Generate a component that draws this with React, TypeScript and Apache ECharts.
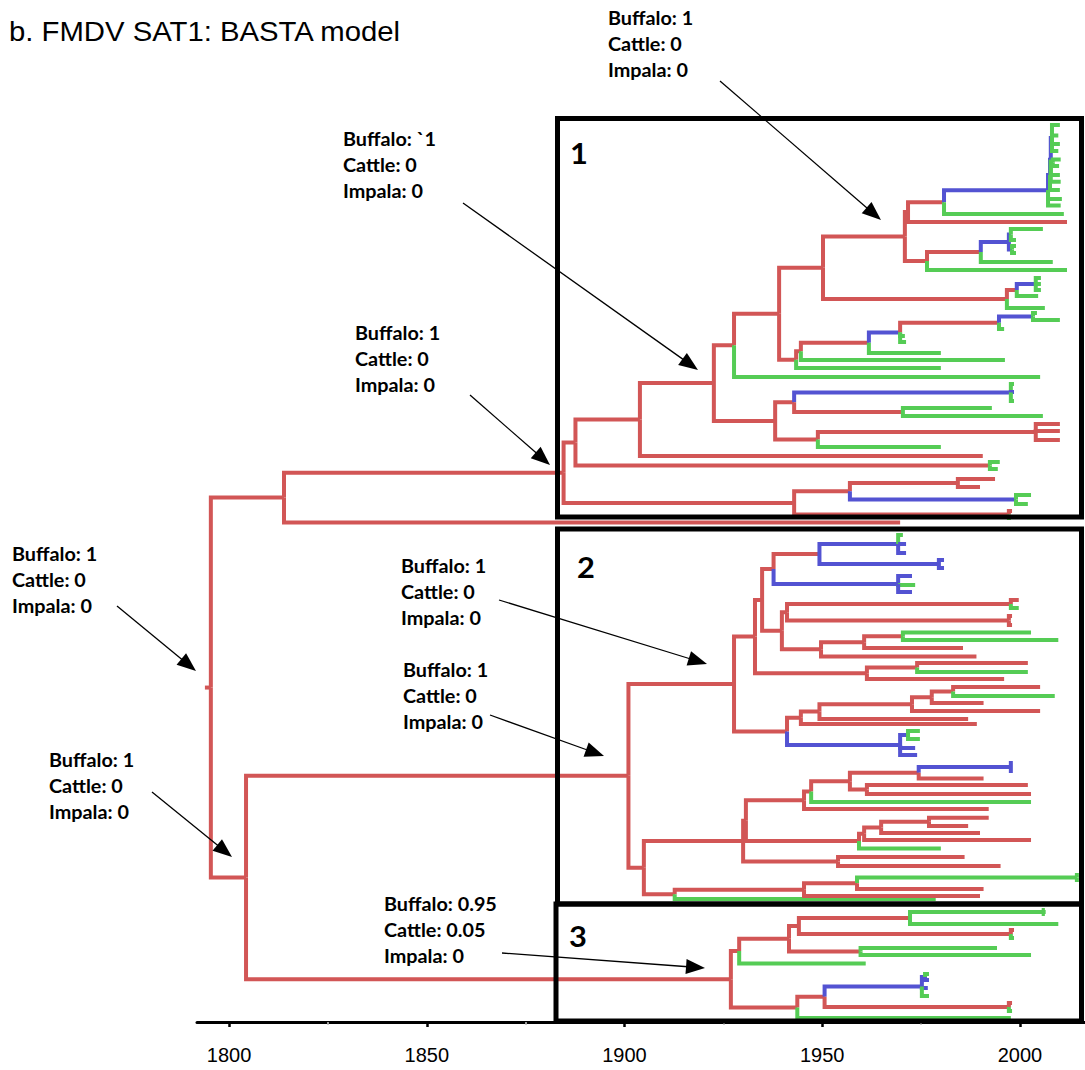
import React, { useEffect, useRef } from "react";
import * as echarts from "echarts";

type TreeNode = { t: number; c: string; y?: number; ch?: TreeNode[] };
const N = (t: number, c: string, ...ch: TreeNode[]): TreeNode => ({ t, c, ch });
const T = (t: number, c: string, y: number): TreeNode => ({ t, c, y });

// ---- axis ----
const YEAR_MIN = 1791.9;
const YEAR_MAX = 2016.45;
const LABEL_YEARS = [1800, 1850, 1900, 1950, 2000];
const MAJOR_TICKS = [1800, 1850, 1900, 1950, 2000];
const MINOR_TICKS = [1825, 1875, 1925, 1975];
const ROW_MIN = 0;
const ROW_MAX = 1022;
const ROOT_STEM_START = 1793.9;

// ---- state colours (r = buffalo, b = cattle, g = impala) ----
const STATE_KEYS = ["r", "b", "g"];
const STATE_COLORS = ["#D25656", "#5353D2", "#55CC55"];

// ---- tree: node ages (years), tip rows ----
const CLADE_1_COMB = N(2007.1, "b",
  N(2007.6, "b",
    N(2007.8, "b",
      N(2008.1, "b", T(2010.1, "g", 125), T(2009.7, "g", 135.6), T(2010.1, "g", 144), T(2009.7, "g", 151)),
      N(2008.3, "b", T(2010.3, "g", 159.5), T(2009.9, "g", 166)),
      T(2010.1, "g", 175), T(2010.3, "g", 181.7)),
    T(2010.1, "g", 190)),
  T(2010.6, "g", 199), T(2010.3, "g", 205.6));

const CLADE_1 = N(1884.6, "r",
  N(1887.6, "r",
    N(1903.9, "r",
      N(1922.6, "r",
        N(1927.7, "r",
          N(1939.1, "r",
            N(1950.2, "r",
              N(1970.9, "r",
                N(1971.7, "r",
                  N(1980.8, "r", CLADE_1_COMB, T(2011.1, "g", 214)),
                  T(2011.9, "r", 222)),
                N(1976.5, "r",
                  N(1990.1, "r",
                    N(1997.2, "b",
                      N(1997.7, "b", T(2005.8, "g", 229), T(1999.0, "g", 240)),
                      N(1998.0, "b", T(1999.0, "g", 246), T(1999.0, "g", 253))),
                    T(2008.3, "g", 262)),
                  T(2011.9, "g", 270))),
              N(1996.7, "r",
                N(1999.2, "r",
                  N(2004.0, "b", T(2005.3, "g", 278), T(2005.3, "g", 284), T(2005.3, "g", 290)),
                  T(2004.6, "g", 296)),
                T(2006.3, "g", 308))),
            N(1943.4, "r",
              N(1944.6, "r",
                N(1961.8, "r",
                  N(1969.7, "b",
                    N(1994.7, "r",
                      N(2003.3, "b", T(2004.3, "g", 313), T(2010.1, "g", 320)),
                      T(1996.0, "g", 329)),
                    T(1970.9, "g", 336), T(1971.2, "g", 342)),
                  T(1980.0, "g", 353)),
                T(1996.2, "g", 360)),
              T(1980.0, "g", 368))),
          T(2005.1, "g", 377)),
        N(1938.1, "r",
          N(1942.9, "r",
            N(1997.7, "b", T(1998.5, "g", 384), T(1998.5, "b", 392), T(1998.5, "g", 401)),
            N(1970.4, "r", T(1992.9, "g", 408), T(2005.8, "g", 416))),
          N(1948.9, "r",
            N(2004.0, "r", T(2010.1, "r", 424), T(2010.1, "r", 431), T(2010.1, "r", 440)),
            T(1980.0, "g", 447)))),
      T(1990.6, "r", 456)),
    N(1992.4, "r", T(1994.9, "g", 462), T(1994.4, "g", 469))),
  N(1942.9, "r",
    N(1957.0, "r",
      N(1984.3, "r", T(1993.7, "r", 479), T(1989.9, "r", 487)),
      N(1999.0, "b", T(2002.8, "g", 495), T(2002.0, "g", 504))),
    N(1997.2, "r", T(1998.0, "r", 511), T(1997.7, "g", 518))));

const CLADE_2 = N(1901.0, "r",
  N(1927.7, "r",
    N(1933.0, "r",
      N(1934.8, "r",
        N(1937.7, "r",
          N(1949.3, "r",
            N(1969.2, "b", T(1970.4, "g", 535), T(1971.2, "b", 544), T(1971.2, "b", 553)),
            N(1979.5, "b", T(1980.8, "b", 560), T(1980.8, "b", 568))),
          N(1969.2, "b", T(1972.7, "b", 576), T(1973.5, "g", 585), T(1972.7, "b", 592))),
        N(1939.8, "r",
          N(1941.1, "r",
            N(1997.7, "r", T(1999.7, "r", 600), T(1999.7, "g", 608)),
            N(1997.2, "r", T(1998.0, "r", 616), T(1998.0, "r", 625))),
          N(1949.7, "r",
            N(1960.6, "r",
              N(1970.4, "r", T(2002.8, "g", 632.6), T(2009.7, "g", 640)),
              T(1985.6, "r", 648)),
            T(1989.0, "r", 656.5)))),
      N(1961.3, "r",
        N(1974.0, "r", T(2002.0, "r", 663), T(2002.0, "g", 672)),
        T(1996.0, "r", 679))),
    N(1941.1, "r",
      N(1944.6, "r",
        N(1949.3, "r",
          N(1972.7, "r",
            N(1977.7, "r",
              N(1983.1, "r", T(2005.1, "r", 687), T(2008.8, "g", 696)),
              T(1990.8, "r", 703)),
            T(2005.1, "r", 711)),
          T(1986.9, "r", 719)),
        T(1989.1, "r", 724)),
      N(1969.7, "b",
        N(1971.7, "b", T(1974.7, "g", 731), T(1974.7, "g", 739)),
        T(1973.5, "b", 748), T(1974.0, "b", 755)))),
  N(1904.9, "r",
    N(1930.0, "r",
      N(1930.7, "r",
        N(1945.4, "r",
          N(1947.2, "r",
            N(1957.0, "r",
              N(1974.4, "r",
                N(1997.7, "b", T(1998.2, "b", 763), T(1998.2, "b", 771)),
                T(1990.8, "r", 778.5)),
              N(1961.3, "r", T(2002.0, "r", 785), T(2002.8, "r", 794))),
            T(2002.8, "g", 802)),
          T(1992.1, "r", 809)),
        N(1959.3, "r",
          N(1960.6, "r",
            N(1964.9, "r",
              N(1977.0, "r", T(1992.1, "r", 817.7), T(1986.9, "r", 826)),
              T(1989.9, "r", 833)),
            T(2002.8, "r", 840)),
          T(1980.0, "g", 848.5))),
      N(1954.0, "r", T(1986.0, "r", 857), T(1995.1, "r", 866))),
    N(1912.7, "r",
      N(1945.4, "r",
        N(1958.8, "r",
          N(2014.4, "g", T(2014.9, "g", 875), T(2014.9, "g", 880)),
          T(1990.8, "r", 889)),
        T(1989.9, "r", 896)),
      T(1978.7, "g", 899))));

const CLADE_3 = N(1926.9, "r",
  N(1929.0, "r",
    N(1941.6, "r",
      N(1944.1, "r",
        N(1972.2, "r",
          N(2006.0, "g", T(2006.3, "g", 910), T(2006.3, "g", 914)),
          T(2009.7, "g", 924)),
        N(1997.7, "r", T(1998.5, "r", 930), T(1998.5, "g", 938))),
      N(1959.7, "r", T(1994.2, "g", 948), T(2002.8, "g", 955))),
    T(1961.0, "g", 963.4)),
  N(1943.7, "r",
    N(1950.6, "r",
      N(1975.2, "b",
        N(1976.0, "b", T(1977.0, "g", 974), T(1977.0, "b", 980)),
        T(1976.7, "b", 988), T(1977.0, "g", 996)),
      N(1997.2, "r", T(1998.0, "r", 1003), T(1998.0, "g", 1011))),
    T(1997.7, "g", 1018)));

const TREE = N(1795.4, "r",
  N(1813.9, "r", CLADE_1, T(1969.7, "r", 522.5)),
  N(1804.3, "r", CLADE_2, CLADE_3));

// ---- text content ----
const TITLE = "b. FMDV SAT1: BASTA model";
const ANNOTATION_TEXTS = [
  ["Buffalo: 1", "Cattle: 0", "Impala: 0"],
  ["Buffalo: `1", "Cattle: 0", "Impala: 0"],
  ["Buffalo: 1", "Cattle: 0", "Impala: 0"],
  ["Buffalo: 1", "Cattle: 0", "Impala: 0"],
  ["Buffalo: 1", "Cattle: 0", "Impala: 0"],
  ["Buffalo: 1", "Cattle: 0", "Impala: 0"],
  ["Buffalo: 1", "Cattle: 0", "Impala: 0"],
  ["Buffalo: 0.95", "Cattle: 0.05", "Impala: 0"],
];
const BOX_LABELS = ["1", "2", "3"];

// ---- layout (pixels) ----
const ANNOTATION_POS = [
  [608, 44], [343, 165], [355, 359], [12, 580], [401, 592], [403, 696], [49, 786], [384, 930],
];
const ARROW_POS = [
  [720, 81, 881, 220],
  [463, 203, 698, 370],
  [470, 395, 550, 465],
  [117, 606, 196, 671],
  [499, 600, 707, 664],
  [490, 715, 604, 756],
  [152, 792, 232, 857],
  [502, 953, 705, 968],
];
const BOX_RECTS = [
  [557.5, 118.5, 1081.5, 517],
  [557.5, 529, 1081.5, 904],
  [556, 904, 1081.5, 1021],
];
const BOX_LABEL_POS = [[579, 153], [586, 567], [578, 936]];

function buildSegments(root: TreeNode): number[][] {
  const yOf = new Map<TreeNode, number>();
  const lay = (n: TreeNode): number => {
    let y: number;
    if (n.ch && n.ch.length) {
      const ys = n.ch.map(lay);
      y = (ys[0] + ys[ys.length - 1]) / 2;
    } else {
      y = n.y as number;
    }
    yOf.set(n, y);
    return y;
  };
  lay(root);
  const out: number[][] = [];
  const ry = yOf.get(root) as number;
  out.push([ROOT_STEM_START, ry, root.t, ry, 0]);
  const walk = (n: TreeNode) => {
    (n.ch || []).forEach((c) => {
      out.push([n.t, yOf.get(n) as number, c.t, yOf.get(c) as number, STATE_KEYS.indexOf(c.c)]);
    });
    (n.ch || []).forEach(walk);
  };
  walk(root);
  return out;
}

function arrowEls(x1: number, y1: number, x2: number, y2: number) {
  const dx = x2 - x1, dy = y2 - y1;
  const len = Math.hypot(dx, dy);
  const ux = dx / len, uy = dy / len;
  const L = 19, W = 7.5;
  const bx = x2 - ux * L, by = y2 - uy * L;
  return [
    { type: "line", z: 20, shape: { x1, y1, x2: bx + ux * 2, y2: by + uy * 2 }, style: { stroke: "#000", lineWidth: 1.3 } },
    { type: "polygon", z: 20, shape: { points: [[x2, y2], [bx - uy * W, by + ux * W], [bx + uy * W, by - ux * W]] }, style: { fill: "#000" } },
  ];
}

export default function App() {
  const ref = useRef<HTMLDivElement>(null);
  useEffect(() => {
    if (!ref.current) return;
    const chart = echarts.init(ref.current, undefined, { renderer: "svg" });
    const segs = buildSegments(TREE);

    const graphics: any[] = [];
    graphics.push({
      type: "text", x: 9, y: 31, scaleX: 1.085, z: 20,
      style: { text: TITLE, x: 0, y: 0, fontSize: 27, fontFamily: "Liberation Sans, Arial, sans-serif", fill: "#000", align: "left", verticalAlign: "middle" },
    });
    ANNOTATION_TEXTS.forEach((lines, i) => {
      const [x, y] = ANNOTATION_POS[i];
      graphics.push({
        type: "text", x, y, scaleX: 1.1, z: 20,
        style: { text: lines.join("\n"), x: 0, y: 0, fontSize: 18, fontWeight: "bold", fontFamily: "Lato, sans-serif", lineHeight: 26, fill: "#000", align: "left", verticalAlign: "middle" },
      });
    });
    ARROW_POS.forEach(([a, b, c, d]) => graphics.push(...arrowEls(a, b, c, d)));
    BOX_RECTS.forEach(([x1, y1, x2, y2]) => {
      graphics.push({
        type: "rect", z: 15, shape: { x: x1, y: y1, width: x2 - x1, height: y2 - y1 },
        style: { fill: "none", stroke: "#000", lineWidth: 5 },
      });
    });
    BOX_LABELS.forEach((s, i) => {
      const [x, y] = BOX_LABEL_POS[i];
      graphics.push({
        type: "text", x, y, scaleX: 1.1, z: 20,
        style: { text: s, x: 0, y: 0, fontSize: 28, fontWeight: "bold", fontFamily: "Lato, sans-serif", fill: "#000", align: "center", verticalAlign: "middle" },
      });
    });

    chart.setOption({
      animation: false,
      backgroundColor: "#fff",
      grid: { left: 197, right: 0, top: 0, bottom: 48, containLabel: false, outerBoundsMode: "none" },
      xAxis: [
        {
          type: "value", min: YEAR_MIN, max: YEAR_MAX, position: "bottom",
          axisLine: { show: true, onZero: false, lineStyle: { color: "#000", width: 3 } },
          axisTick: { show: true, customValues: MAJOR_TICKS, length: 5, lineStyle: { color: "#000", width: 2.5 } },
          axisLabel: {
            show: true, customValues: LABEL_YEARS, formatter: (v: number) => String(v),
            fontSize: 20, fontFamily: "Liberation Sans, Arial, sans-serif", color: "#000", margin: 23,
          },
          splitLine: { show: false },
        },
        {
          type: "value", min: YEAR_MIN, max: YEAR_MAX, position: "bottom",
          axisLine: { show: false, onZero: false },
          axisTick: { show: true, customValues: MINOR_TICKS, length: 2.5, lineStyle: { color: "#999", width: 2 } },
          axisLabel: { show: false },
          splitLine: { show: false },
        },
      ],
      yAxis: { type: "value", min: ROW_MIN, max: ROW_MAX, inverse: true, show: false },
      series: [
        {
          type: "custom",
          xAxisIndex: 0,
          yAxisIndex: 0,
          clip: false,
          silent: true,
          encode: { x: [0, 2], y: [1, 3] },
          data: segs,
          renderItem: (_p: any, api: any) => {
            const a = api.coord([api.value(0), api.value(1)]);
            const b = api.coord([api.value(0), api.value(3)]);
            const c = api.coord([api.value(2), api.value(3)]);
            return {
              type: "polyline",
              shape: { points: [a, b, c] },
              style: { stroke: STATE_COLORS[api.value(4)], lineWidth: 4, fill: null, lineJoin: "miter", lineCap: "butt" },
            };
          },
        },
      ],
      graphic: { elements: graphics },
    });
    return () => chart.dispose();
  }, []);
  return <div ref={ref} style={{ position: "absolute", left: 0, top: 0, width: 1085, height: 1070 }} />;
}
